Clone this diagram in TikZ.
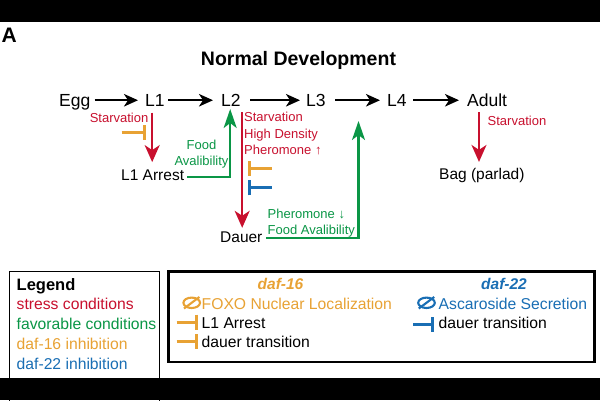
\documentclass[tikz,border=0pt]{standalone}
\usepackage{fontspec}
\setmainfont{Liberation Sans}
\usetikzlibrary{arrows.meta,calc}
\definecolor{cred}{RGB}{200,16,46}
\definecolor{cgreen}{RGB}{10,150,70}
\definecolor{corange}{RGB}{232,162,52}
\definecolor{cblue}{RGB}{25,110,180}
\begin{document}
\begin{tikzpicture}[x=1pt,y=-1pt,
  stage/.style={font=\fontsize{17.5}{20}\selectfont, inner sep=0pt, anchor=base west, text height=12.5pt, text depth=0pt},
  sub/.style={font=\fontsize{15.5}{18}\selectfont, inner sep=0pt, anchor=base west, text height=11.2pt, text depth=0pt},
  small/.style={font=\fontsize{13}{16}\selectfont, inner sep=0pt},
  leg/.style={font=\fontsize{15.7}{19}\selectfont, inner sep=0pt, anchor=base west},
  legtitle/.style={font=\fontsize{15.5}{19}\selectfont\bfseries\itshape, inner sep=0pt, anchor=base},
  mainarr/.style={draw=black, line width=2pt, -{Stealth[length=14pt,width=12.5pt,inset=4pt]}},
  redarr/.style={draw=cred, line width=2pt, -{Stealth[length=17pt,width=15pt,inset=5pt]}},
  greenarr/.style={draw=cgreen, line width=2.2pt, -{Stealth[length=19pt,width=13pt,inset=5pt]}},
  inhib/.style={line width=3pt, -{Bar[width=15pt]}},
  noentry/.style={line width=2.1pt}
]
\useasboundingbox (0,0) rectangle (600,400);
\fill[white] (0,0) rectangle (600,400);

% headings
\node[font=\fontsize{21}{24}\selectfont\bfseries, inner sep=0pt, anchor=base west] (panelA) at (1.5,42) {A};
\node[font=\fontsize{19.5}{22}\selectfont\bfseries, inner sep=0pt, anchor=base] (title) at (298.5,65) {Normal Development};

% stages
\node[stage] (Egg) at (59,106.5) {Egg};
\node[stage] (L1) at (145,106.5) {L1};
\node[stage] (L2) at (221,106.5) {L2};
\node[stage] (L3) at (306,106.5) {L3};
\node[stage] (L4) at (387,106.5) {L4};
\node[stage] (Adult) at (467,106.5) {Adult};

\draw[mainarr, shorten <=4pt, shorten >=7pt] (Egg.east) -- (L1.west);
\draw[mainarr, shorten <=3.5pt, shorten >=8pt] (L1.east) -- (L2.west);
\draw[mainarr, shorten <=9.5pt, shorten >=6pt] (L2.east) -- (L3.west);
\draw[mainarr, shorten <=9.5pt, shorten >=7pt] (L3.east) -- (L4.west);
\draw[mainarr, shorten <=6.5pt, shorten >=8pt] (L4.east) -- (Adult.west);

% side states
\node[sub] (L1A) at (121,180) {L1 Arrest};
\node[sub] (Dauer) at (220,242.7) {Dauer};
\node[sub] (Bag) at (439,179.3) {Bag (parlad)};

% stress arrows
\path ($(L1.base)+(-2.75,6)$) coordinate (r1s);
\draw[redarr, shorten >=6.5pt] (r1s) -- (r1s |- L1A.north);
\path ($(L2.base)+(11.25,5.5)$) coordinate (r2s);
\draw[redarr, shorten >=3.5pt] (r2s) -- (r2s |- Dauer.north);
\path ($(Adult.base west)+(12,5.5)$) coordinate (r3s);
\draw[redarr, shorten >=6pt] (r3s) -- (r3s |- Bag.north);

\node[small, text=cred, anchor=base east] (st1) at (148.5,122.5) {Starvation};
\node[small, text=cred, anchor=base west] (st2a) at (244,121.7) {Starvation};
\node[small, text=cred, anchor=base west] (st2b) at (244,138.3) {High Density};
\node[small, text=cred, anchor=base west] (st2c) at (244,154.3) {Pheromone ↑};
\node[small, text=cred, anchor=base west] (st3) at (487.5,125) {Starvation};

% favourable arrows
\draw[greenarr] ($(L1A.base east)+(3,-3)$) -| ($(L2.base)+(-0.75,2.5)$);
\coordinate (g2e) at (358.5,121);
\draw[greenarr] ($(Dauer.base east)+(3.5,-4.7)$) -| (g2e);
\node[small, text=cgreen, anchor=base] (fa1) at (201.5,149.3) {Food};
\node[small, text=cgreen, anchor=base] (fa2) at (201.5,165.7) {Avalibility};
\node[small, text=cgreen, anchor=base west] (fb1) at (267.5,218.3) {Pheromone ↓};
\node[small, text=cgreen, anchor=base west] (fb2) at (267.5,234.3) {Food Avalibility};

% inhibitions
\coordinate (i1a) at (121.7,132.5); \coordinate (i1b) at (145.5,132.5);
\draw[inhib, draw=corange] (i1a) -- (i1b);
\coordinate (i2a) at (271.5,168.3); \coordinate (i2b) at (247.5,168.3);
\draw[inhib, draw=corange] (i2a) -- (i2b);
\coordinate (i3a) at (271.5,187.8); \coordinate (i3b) at (247.5,187.8);
\draw[inhib, draw=cblue] (i3a) -- (i3b);

% legend box
\draw[line width=1.5pt] (9.5,271.5) rectangle (159.5,410);
\node[font=\fontsize{16.5}{19}\selectfont\bfseries, inner sep=0pt, anchor=base west] (legend) at (16.5,290.7) {Legend};
\node[leg, text=cred] (lg1) at (16.5,309.3) {stress conditions};
\node[leg, text=cgreen] (lg2) at (16.5,329.3) {favorable conditions};
\node[leg, text=corange] (lg3) at (16.5,349.3) {daf-16 inhibition};
\node[leg, text=cblue] (lg4) at (16.5,369.3) {daf-22 inhibition};

% gene box
\draw[line width=2.2pt] (168.5,271.5) rectangle (594.5,362);
\node[legtitle, text=corange] (d16) at (280.5,289.3) {daf-16};
\node[legtitle, text=cblue] (d22) at (504,289.3) {daf-22};

\draw[noentry, corange] (191.7,302.8) ellipse [x radius=8.3, y radius=5.2];
\draw[noentry, corange] (184,308.5) -- (199.4,297);
\node[leg, text=corange] (foxo) at (201.5,309.3) {FOXO Nuclear Localization};
\coordinate (t1a) at (176.7,322); \coordinate (t1b) at (198.3,322);
\draw[inhib, draw=corange] (t1a) -- (t1b);
\node[leg] (k1) at (201.5,328.3) {L1 Arrest};
\coordinate (t2a) at (176.7,341.5); \coordinate (t2b) at (198.3,341.5);
\draw[inhib, draw=corange] (t2a) -- (t2b);
\node[leg] (k2) at (201.5,347.3) {dauer transition};

\draw[noentry, cblue] (426.5,302.8) ellipse [x radius=8.3, y radius=5.2];
\draw[noentry, cblue] (418.8,308.5) -- (434.2,297);
\node[leg, text=cblue] (asc) at (438.5,309.3) {Ascaroside Secretion};
\coordinate (t3a) at (413.3,324.5); \coordinate (t3b) at (434.3,324.5);
\draw[inhib, draw=cblue] (t3a) -- (t3b);
\node[leg] (k3) at (438.5,328.3) {dauer transition};

% black bands
\fill[black] (0,0) rectangle (600,22);
\fill[black] (0,378) rectangle (600,400);
\end{tikzpicture}
\end{document}
